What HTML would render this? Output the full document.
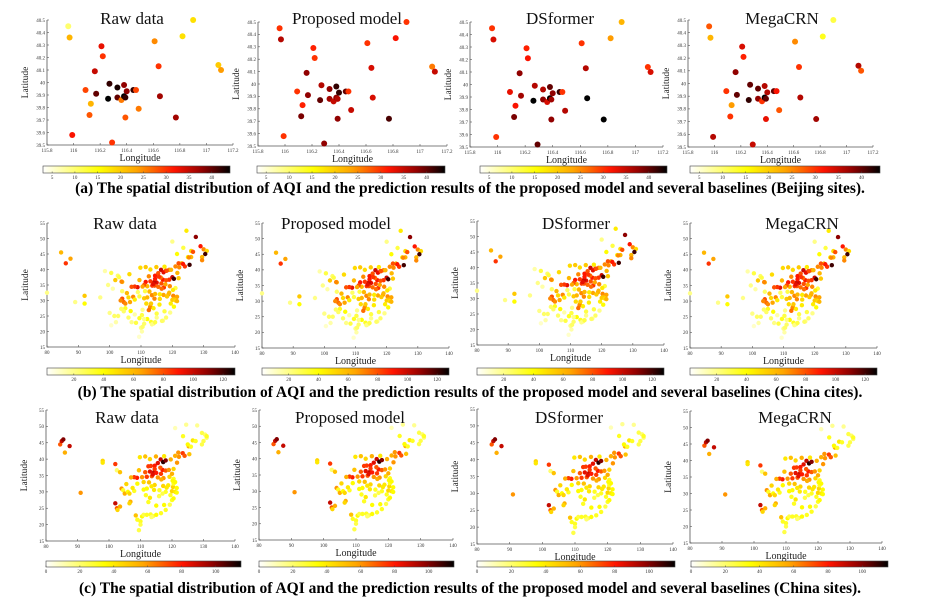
<!DOCTYPE html>
<html><head><meta charset="utf-8">
<style>
html,body{margin:0;padding:0;background:#fff;}
svg{display:block;}
text{font-family:"Liberation Serif",serif;}
</style></head>
<body>
<svg id="fig" width="937" height="609" viewBox="0 0 937 609" xmlns="http://www.w3.org/2000/svg"></svg>
<script>
// ---------- DATA ----------
const panelTitles = ["Raw data","Proposed model","DSformer","MegaCRN"];
const bjLon = [115.96,115.97,116.90,116.82,116.61,116.21,116.22,116.16,116.64,117.09,117.11,116.09,116.17,116.27,116.26,116.33,116.33,116.36,116.38,116.38,116.39,116.40,116.45,116.47,116.65,116.13,116.12,116.49,116.39,116.77,115.99,116.29];
const bjLat = [40.45,40.36,40.50,40.37,40.33,40.29,40.21,40.09,40.13,40.14,40.10,39.94,39.91,39.99,39.87,39.96,39.88,39.86,39.98,39.89,39.88,39.93,39.94,39.94,39.89,39.83,39.74,39.79,39.72,39.72,39.58,39.52];
const bjRaw  = [10,22,18,18,25,33,30,35,30,20,24,29,40,42,44,43,40,26,38,44,42,38,42,29,37,22,28,26,28,37,32,30];
const bjProp = [30,36,30,32,30,31,30,38,34,26,35,30,38,36,40,38,37,35,42,38,36,42,40,30,34,31,39,35,38,41,30,38];
const bjDS   = [30,34,22,24,30,31,32,38,36,30,34,33,37,36,44,36,38,34,40,44,37,38,42,30,44,32,39,36,38,44,30,40];
const bjMega = [28,22,12,14,25,34,31,38,30,36,28,30,40,40,42,40,38,30,36,44,40,36,40,32,36,24,30,28,33,37,36,35];
const bjXTicks = [115.8,116,116.2,116.4,116.6,116.8,117,117.2];
const bjYTicks = [39.5,39.6,39.7,39.8,39.9,40,40.1,40.2,40.3,40.4,40.5];
const bjCbTicks = [5,10,15,20,25,30,35,40];

const cnXTicks = [80,90,100,110,120,130,140];
const cnYTicks = [15,20,25,30,35,40,45,50,55];
const cbTicksB = [20,40,60,80,100,120];
const cbTicksC = [0,20,40,60,80,100];

const citesPts = [[84.5,45.5,60],[86,42,85],[87.5,43.5,65],[92,31.5,55],[92,29,40],[89,29.5,20],[80,32.5,20],[97,31,20],
[124.5,52.5,45],[127.5,50.5,110],[129,47.5,90],[130,46.5,70],[131,46,50],[130.5,45,120],[129.5,44,60],[129.5,43,70],[126,44,60],[125.5,41.5,120],[124,41,85],[123,42,60],[122,42,80],[121,41,70],[126,46,50],[125,44,45],[123.5,47,30],[120,49,20],[121.5,45,40],
[116.4,39.9,100],[117.2,39.1,95],[114.5,38,90],[115.5,38.8,80],[118,39.6,90],[119,39.9,70],[120,37.5,100],[120.5,37,120],[119,36.7,85],[117,36.7,90],[118,36.5,80],[116.5,35.5,80],[115,35.8,95],[113.6,34.8,85],[114.3,36,100],[112.5,37.8,70],[111.5,36,90],[113,36.2,85],[112,34.6,60],[115.5,34.4,75],[117.3,34.2,85],[118.8,32,65],[120.3,31.5,70],[121.5,31.2,65],[120.5,30.5,60],[120,30.2,55],[121,30,50],[121.5,29.8,60],[120.5,28,40],[119.5,29,45],[119,32.5,60],[117.2,31.8,65],[118.3,31.3,55],[116,30.5,50],[114.3,30.6,70],[113,28.2,60],[112.9,27.8,70],[112.5,26.9,75],[113.2,29,55],[111.7,29,50],[115.9,28.7,45],[113.2,23.1,35],[114,22.6,25],[113.5,22.3,20],[110.3,20,15],[110,21.2,20],[110.5,21.5,25],[108.4,22.8,30],[109.5,24.3,35],[110.3,25.3,30],[106.7,26.6,40],[104,30.6,80],[104.5,29.5,75],[103.5,30,70],[105,29,70],[106.5,29.5,65],[102.7,25,25],[100,26,20],[101.5,25,25],[102,23,15],[100.5,22,10],[104,36,60],[103.8,36.1,70],[101.8,36.6,55],[106.3,38.5,50],[108.9,34.3,95],[108,34.5,85],[107,34.4,80],[109.5,36.6,60],[111.5,40.8,55],[109.8,40.6,50],[113,40,50],[114.9,40.8,55],[117.5,40.9,45],[118.2,39.6,80],[119.6,39.9,60],[121.6,38.9,60],[122.2,40.7,70],[123.4,41.8,90],[125.3,43.9,70],[126.6,45.7,80],[98.5,39.5,15],[100.5,38.9,30],[102.6,38,25],[103,37.5,30],[99.5,35,20],[101,33.8,15],[104,33,25],[105.5,32.4,60],[107.5,31.2,70],[106,31,50],[108,30.3,45],[109.5,31.3,30],[111,30.7,55],[112,31,60],[113.5,31.7,70],[114.5,32.1,60],[116.6,33.8,75],[114,27.5,45],[115,25.8,30],[117.5,26.5,30],[118,24.5,25],[119.3,26.1,20],[117,23.5,20],[116.7,23.4,25],[112,24,40],[111,22.5,25],[107,23,20],[106,24.5,25],[105,27.5,35],[104.5,26.5,25],[103.7,27.3,25],[121,34,30],[120.2,33.4,45],[119.2,34.6,70],[117.8,35.2,65],[122,37.2,55],[116.3,37.4,75],[115.7,37.7,85],[114.5,37,90],[111,35,80],[110.5,34.5,65],[114.3,34.8,80],[112.7,32.9,60],[113.9,35.3,95],[116,32,45],[111.3,33,30],[109,32.7,25],[110.5,27,20],[108,25.5,15],[111,24,20],[115,24.5,20],[114.5,23,30],[109.4,18.3,10]];

const sitesPts = [[84.5,44.5,70],[85,45.5,90],[85.5,46,100],[86,42,55],[87.5,44,90],[91,29.7,60],[98,39.5,45],[98,38.9,40],[102,38.5,75],[102.5,36.6,20],[103.5,36,50],[104,31,60],[104.5,30.5,30],[105,29.5,55],[106,30,35],[106.5,29.5,45],[106.8,27,55],[102,26.5,90],[102.5,25,70],[103.5,25.5,55],[102.7,24.5,45],[106.5,26.5,45],[108.5,22.8,50],[109,21.5,30],[110,21,30],[110,20,25],[109.5,18.3,25],[110.5,22.5,35],[111,23,25],[112,23,30],[113.2,23.1,30],[114,22.6,25],[113.5,22.3,20],[115,23,35],[116.5,23.5,30],[118,24.5,30],[119.3,26.1,25],[120,27.5,30],[120.5,28,35],[117.5,26,35],[115,25.8,35],[112.5,26.9,30],[113,28.2,40],[111.7,29,30],[114.3,30.6,40],[115.9,28.7,25],[116,30.5,30],[117.2,31.8,45],[118.8,32,40],[120.3,31.5,45],[121.5,31.2,35],[120,30.2,45],[121,30,40],[121.5,29.8,35],[119.5,29,30],[118.3,31.3,40],[120.5,32.5,30],[119.2,34.6,45],[117.3,34.2,60],[116.6,33.8,55],[115.5,34.4,60],[113.6,34.8,70],[112,34.6,75],[114.3,36,90],[115,35.8,80],[116.5,35.5,75],[117,36.7,80],[118,36.5,70],[119,36.7,60],[120.5,37,45],[121.6,38.9,60],[116.4,39.9,90],[117.2,39.1,110],[118,39.6,100],[114.5,38,80],[115.5,38.8,85],[112.5,37.8,75],[111.5,36,70],[113,36.2,85],[113.3,37.9,75],[108.9,34.3,80],[108,34.5,75],[107,34.4,55],[109.5,36.6,50],[111.5,40.8,50],[109.8,40.6,40],[113,40,45],[114.9,40.8,55],[117.5,40.9,40],[119.6,39.9,55],[122.2,40.7,60],[123.4,41.8,75],[125.3,43.9,55],[126.6,45.7,40],[124,41,70],[122,42,60],[121,41,55],[125.5,41.5,50],[123.5,47,30],[125,44.5,35],[126,43.8,30],[129.5,44.5,25],[130,45.5,25],[131,46.5,20],[130.5,47.5,20],[129.5,48,25],[131,47,30],[127.5,45.5,30],[128,50.3,15],[124.5,50.5,15],[121,49.5,10],[120.5,34,30],[121,33,35],[113.9,35.3,85],[114.5,37,75],[116.3,37.4,70],[120,35.5,55],[110.5,34.5,60],[109,32.5,35],[111,33,45],[112.7,32.9,50],[114.5,32.1,45],[113.5,31.7,40],[112,31,35],[111,30.7,35],[108,30.3,30],[107.5,31.2,40],[105.5,32.4,45],[120.2,33.4,35],[118,30,30],[117,29.5,25]];

// ---------- HELPERS ----------
const svg = document.getElementById('fig');
const NS = 'http://www.w3.org/2000/svg';
function mk(tag, attrs, parent){const e=document.createElementNS(NS,tag);for(const k in attrs)e.setAttribute(k,attrs[k]);(parent||svg).appendChild(e);return e;}
const stops=[[0,[255,255,255]],[0.3,[255,255,0]],[0.5,[255,165,0]],[0.7,[255,20,0]],[0.86,[140,0,0]],[1,[0,0,0]]];
function cmap(t){t=Math.max(0,Math.min(1,t));for(let i=1;i<stops.length;i++){if(t<=stops[i][0]){const a=stops[i-1],b=stops[i];const f=(t-a[0])/(b[0]-a[0]);const c=a[1].map((v,j)=>Math.round(v+(b[1][j]-v)*f));return `rgb(${c[0]},${c[1]},${c[2]})`;}}return 'rgb(0,0,0)';}
let gid=0;
function panel(cfg){
  const g=mk('g',{});
  
  
  const sx=v=>cfg.L+(v-cfg.xmin)/(cfg.xmax-cfg.xmin)*(cfg.R-cfg.L);
  const sy=v=>cfg.B-(v-cfg.ymin)/(cfg.ymax-cfg.ymin)*(cfg.B-cfg.T);
  const ax=mk('path',{d:`M${cfg.L},${cfg.T}V${cfg.B}H${cfg.R}`,stroke:'#555',fill:'none','stroke-width':0.8},g);
  
  cfg.xt.forEach(v=>{const x=sx(v);mk('line',{x1:x,x2:x,y1:cfg.B,y2:cfg.B-2,stroke:'#555','stroke-width':0.6},g);
    const t=mk('text',{x:x,y:cfg.B+7,'font-size':5,'text-anchor':'middle',fill:'#333'},g);t.textContent=v;
    });
  cfg.yt.forEach(v=>{const y=sy(v);mk('line',{x1:cfg.L,x2:cfg.L+2,y1:y,y2:y,stroke:'#555','stroke-width':0.6},g);
    const t=mk('text',{x:cfg.L-2,y:y+1.8,'font-size':5,'text-anchor':'end',fill:'#333'},g);t.textContent=v;
    });
  const xl=mk('text',{x:(cfg.L+cfg.R)/2,y:cfg.B+16,'font-size':10,'text-anchor':'middle',fill:'#222'},g);xl.textContent='Longitude';
  
  const yx=cfg.L-19,yy=(cfg.T+cfg.B)/2;
  const yl=mk('text',{x:yx,y:yy,'font-size':9.5,'text-anchor':'middle',fill:'#222',transform:`rotate(-90 ${yx} ${yy})`},g);yl.textContent='Latitude';
  
  cfg.lon.forEach((lo,i)=>{const c=mk('circle',{cx:sx(lo),cy:sy(cfg.lat[i]),r:cfg.r,fill:cmap((cfg.val[i]-cfg.cmin)/(cfg.cmax-cfg.cmin))},g);
    });
  const tt=mk('text',{x:cfg.tx,y:cfg.ty,'font-size':cfg.tf,'text-anchor':'middle',fill:'#111'},g);tt.textContent=cfg.title;
  
  const id='cb'+(gid++);
  const lg=mk('linearGradient',{id:id,x1:0,x2:1,y1:0,y2:0},g);
  for(let k=0;k<=20;k++)mk('stop',{offset:k/20,'stop-color':cmap(k/20)},lg);
  const cb=mk('rect',{x:cfg.cL,y:cfg.cT,width:cfg.cR-cfg.cL,height:cfg.cH,fill:`url(#${id})`,stroke:'#444','stroke-width':0.6},g);
  
  cfg.ct.forEach(v=>{const x=cfg.cL+(v-cfg.cmin)/(cfg.cmax-cfg.cmin)*(cfg.cR-cfg.cL);
    mk('line',{x1:x,x2:x,y1:cfg.cT+cfg.cH,y2:cfg.cT+cfg.cH-1.5,stroke:'#444','stroke-width':0.5},g);
    const t=mk('text',{x:x,y:cfg.cT+cfg.cH+6,'font-size':5,'text-anchor':'middle',fill:'#333'},g);t.textContent=v;
    });
}
const bjVals=[bjRaw,bjProp,bjDS,bjMega];
const rowA=[{L:47,R:233,T:20,B:145,cL:43,cR:230,tx:132},{L:258,R:447,T:22,B:146,cL:257,cR:445,tx:347},{L:470,R:663,T:22,B:147,cL:480,cR:667,tx:560},{L:688,R:873,T:20,B:147,cL:690,cR:880,tx:782}];
rowA.forEach((p,i)=>panel(Object.assign({name:'beijing-'+i,title:panelTitles[i],ty:24,tf:17,xmin:115.8,xmax:117.2,ymin:39.5,ymax:40.5,xt:bjXTicks,yt:bjYTicks,lon:bjLon,lat:bjLat,val:bjVals[i],r:3,cmin:3,cmax:44,ct:bjCbTicks,cT:166,cH:7},p)));
const cLon=citesPts.map(p=>p[0]),cLat=citesPts.map(p=>p[1]),cVal=citesPts.map(p=>p[2]);
const rowB=[{L:47,R:235,T:223,B:347,cL:47,cR:235,tx:125},{L:262,R:449,T:223,B:348,cL:262,cR:449,tx:336},{L:477,R:664,T:221,B:345,cL:477,cR:664,tx:576},{L:690,R:877,T:223,B:348,cL:690,cR:877,tx:802}];
rowB.forEach((p,i)=>panel(Object.assign({name:'china-cites-'+i,title:panelTitles[i],ty:229,tf:17,xmin:80,xmax:140,ymin:15,ymax:55,xt:cnXTicks,yt:cnYTicks,lon:cLon,lat:cLat,val:cVal,r:2.2,cmin:2,cmax:128,ct:cbTicksB,cT:368,cH:7},p)));
const sLon=sitesPts.map(p=>p[0]),sLat=sitesPts.map(p=>p[1]),sVal=sitesPts.map(p=>p[2]);
const rowC=[{L:46,R:235,T:410,B:541,cL:46,cR:241,tx:127},{L:259,R:453,T:410,B:540,cL:259,cR:454,tx:350},{L:477,R:673,T:409,B:544,cL:477,cR:675,tx:569},{L:690,R:882,T:411,B:543,cL:691,cR:888,tx:795}];
rowC.forEach((p,i)=>panel(Object.assign({name:'china-sites-'+i,title:panelTitles[i],ty:423,tf:17,xmin:80,xmax:140,ymin:15,ymax:55,xt:cnXTicks,yt:cnYTicks,lon:sLon,lat:sLat,val:sVal,r:2.2,cmin:0,cmax:115,ct:cbTicksC,cT:561,cH:6},p)));
[["(a) The spatial distribution of AQI and the prediction results of the proposed model and several baselines (Beijing sites).",193,'caption-a'],
 ["(b) The spatial distribution of AQI and the prediction results of the proposed model and several baselines (China cites).",397,'caption-b'],
 ["(c) The spatial distribution of AQI and the prediction results of the proposed model and several baselines (China sites).",593,'caption-c']].forEach(c=>{
  const t=mk('text',{x:470,y:c[1],'font-size':15.5,'font-weight':'bold','text-anchor':'middle',fill:'#000'});t.textContent=c[0];
  });
</script>
</body></html>
